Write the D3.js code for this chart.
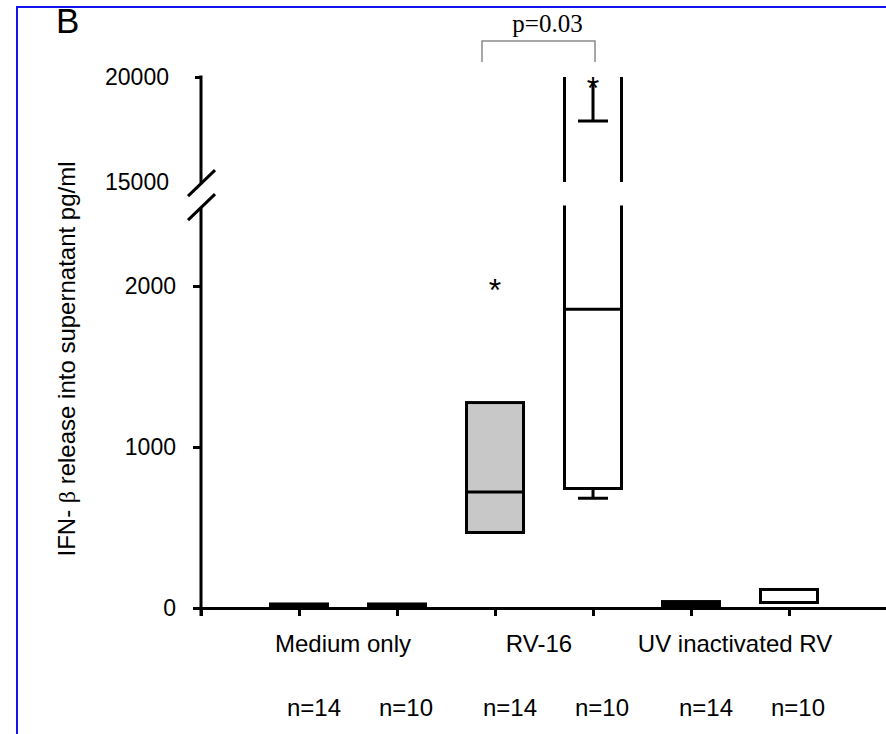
<!DOCTYPE html>
<html>
<head>
<meta charset="utf-8">
<script src="https://cdn.jsdelivr.net/npm/d3@7"></script>
<style>
  body { margin: 0; background: #fff; }
  svg { display: block; }
</style>
</head>
<body>
<div id="chart"></div>
<script>
// groups and box values (pg/ml)
const groups = ["Medium only", "RV-16", "UV inactivated RV"];
const nLabels = ["n=14", "n=10", "n=14", "n=10", "n=14", "n=10"];
const q1 = [5, 5, 469, 742, 15, 34];
const median = [15, 15, 720, 1855, 28, 34];
const q3 = [25, 25, 1276, 20500, 40, 115];
const whiskerLow = [null, null, null, 681, null, null];
const whiskerHigh = [null, null, null, 17900, null, null];
const outliers = [[], [], [2020], [19810], [], []];
const lowTicks = [0, 1000, 2000];
const highTicks = [15000, 20000];
const pText = "p=0.03";

const width = 886, height = 734;
const sans = "'Liberation Sans', Arial, sans-serif";
const serif = "'Liberation Serif', 'Times New Roman', serif";

const svg = d3.select("#chart").append("svg")
    .attr("width", width)
    .attr("height", height);

// blue frame of the panel
svg.append("path")
    .attr("d", `M17,${height} V7 H${width}`)
    .attr("fill", "none")
    .attr("stroke", "#1414f0")
    .attr("stroke-width", 2);

// scales: x slots 1..6 hold the boxes, y is split in two
const x = d3.scaleLinear([0, 7], [201, 887]);
const yLow = d3.scaleLinear([0, 2500], [608, 205.5]);
const yHigh = d3.scaleLinear([15000, 20000], [182, 77]);
const y = v => v <= 2500 ? yLow(v) : yHigh(Math.min(v, 20000));
const boxW = 57;
const fill = i => i % 2 === 0 ? "#c8c8c8" : "#ffffff";

// lower y axis
const gLow = svg.append("g")
    .attr("transform", `translate(${x(0)},0)`)
    .call(d3.axisLeft(yLow).tickValues(lowTicks).tickSize(8).tickPadding(17).tickFormat(d3.format("d")));
gLow.select(".domain").remove();
gLow.selectAll("line").attr("stroke", "#000").attr("stroke-width", 3);

// upper y axis
const gHigh = svg.append("g")
    .attr("transform", `translate(${x(0)},0)`)
    .call(d3.axisLeft(yHigh).tickValues(highTicks).tickSize(6).tickPadding(26).tickFormat(d3.format("d")));
gHigh.select(".domain").remove();
gHigh.selectAll("line").attr("stroke", "#000").attr("stroke-width", 3);
gHigh.selectAll(".tick").filter(d => d === 15000).select("line").remove();

svg.selectAll(".tick text")
    .attr("font-family", sans)
    .attr("font-size", 23)
    .attr("fill", "#000");

// axis lines with the break
svg.append("line")
    .attr("x1", x(0)).attr("x2", x(0))
    .attr("y1", yLow(0) + 8).attr("y2", yLow(2490))
    .attr("stroke", "#000").attr("stroke-width", 3);
svg.append("line")
    .attr("x1", x(0)).attr("x2", x(0))
    .attr("y1", yHigh(20000) - 1.5).attr("y2", yHigh(14950))
    .attr("stroke", "#000").attr("stroke-width", 3);
[yHigh(14950), yLow(2490)].forEach(cy => {
    svg.append("line")
        .attr("x1", x(0) - 13).attr("y1", cy + 13)
        .attr("x2", x(0) + 14).attr("y2", cy - 13)
        .attr("stroke", "#000").attr("stroke-width", 3);
});

// x axis
const gx = svg.append("g")
    .attr("transform", `translate(0,${yLow(0)})`)
    .call(d3.axisBottom(x).tickValues(d3.range(0, 8)).tickSize(8).tickSizeOuter(0).tickFormat(""));
gx.select(".domain").attr("stroke", "#000").attr("stroke-width", 3);
gx.selectAll("line").attr("stroke", "#000").attr("stroke-width", 3);

// boxes
const boxes = svg.append("g")
    .attr("stroke", "#000")
    .attr("stroke-width", 3)
    .attr("stroke-linejoin", "miter");

q1.forEach((lo, i) => {
    const cx = x(i + 1), x0 = cx - boxW / 2, x1 = cx + boxW / 2;
    const hi = q3[i];
    if (hi <= 2500) {
        boxes.append("rect")
            .attr("x", x0).attr("y", y(hi))
            .attr("width", boxW).attr("height", y(lo) - y(hi))
            .attr("fill", fill(i));
    } else {
        // box runs through the axis break: open sides in both segments
        boxes.append("rect")
            .attr("x", x0).attr("y", yLow(2500))
            .attr("width", boxW).attr("height", yLow(lo) - yLow(2500))
            .attr("fill", fill(i)).attr("stroke", "none");
        boxes.append("path")
            .attr("fill", "none")
            .attr("d", `M${x0},${yLow(2500)} V${yLow(lo)} H${x1} V${yLow(2500)}`);
        const top = Math.min(hi, 20000);
        boxes.append("path")
            .attr("fill", "none")
            .attr("d", `M${x0},${yHigh(15000)} V${yHigh(top)} M${x1},${yHigh(15000)} V${yHigh(top)}`);
    }
    boxes.append("line")
        .attr("x1", x0).attr("x2", x1)
        .attr("y1", y(median[i])).attr("y2", y(median[i]));

    if (whiskerLow[i] != null) {
        boxes.append("path").attr("fill", "none")
            .attr("d", `M${cx},${y(lo)} V${y(whiskerLow[i])} M${cx - 15},${y(whiskerLow[i])} H${cx + 15}`);
    }
    if (whiskerHigh[i] != null) {
        const top = outliers[i].length ? d3.max(outliers[i]) : 20000;
        boxes.append("path").attr("fill", "none")
            .attr("d", `M${cx},${y(top)} V${y(whiskerHigh[i])} M${cx - 15},${y(whiskerHigh[i])} H${cx + 15}`);
    }
    outliers[i].forEach(v => {
        svg.append("text")
            .attr("x", cx).attr("y", y(v) + 18)
            .attr("text-anchor", "middle")
            .attr("font-family", sans)
            .attr("font-size", 32)
            .text("*");
    });
});

// significance bracket
const bx0 = x(3) - 13, bx1 = x(4) + 2;
svg.append("path")
    .attr("d", `M${bx0},62 V41 H${bx1} V62`)
    .attr("fill", "none")
    .attr("stroke", "#8a8a8a")
    .attr("stroke-width", 1.5);
svg.append("text")
    .attr("x", (bx0 + bx1) / 2 + 9).attr("y", 32)
    .attr("text-anchor", "middle")
    .attr("font-family", serif)
    .attr("font-size", 25)
    .text(pText);

// group labels and n
groups.forEach((g, k) => {
    svg.append("text")
        .attr("x", (x(2 * k + 1) + x(2 * k + 2)) / 2 - 5)
        .attr("y", 652)
        .attr("text-anchor", "middle")
        .attr("font-family", sans)
        .attr("font-size", 24)
        .text(g);
});
nLabels.forEach((n, i) => {
    svg.append("text")
        .attr("x", x(i + 1) + (i % 2 === 0 ? 15 : 9))
        .attr("y", 716)
        .attr("text-anchor", "middle")
        .attr("font-family", sans)
        .attr("font-size", 24)
        .text(n);
});

// y title
const yt = svg.append("text")
    .attr("transform", "translate(75,359) rotate(-90)")
    .attr("text-anchor", "middle")
    .attr("font-family", sans)
    .attr("font-size", 24);
yt.append("tspan").text("IFN- ");
yt.append("tspan").attr("font-family", serif).text("β");
yt.append("tspan").text(" release into supernatant pg/ml");

// panel letter
svg.append("text")
    .attr("x", 56).attr("y", 33)
    .attr("font-family", sans)
    .attr("font-size", 35)
    .text("B");
</script>
</body>
</html>
